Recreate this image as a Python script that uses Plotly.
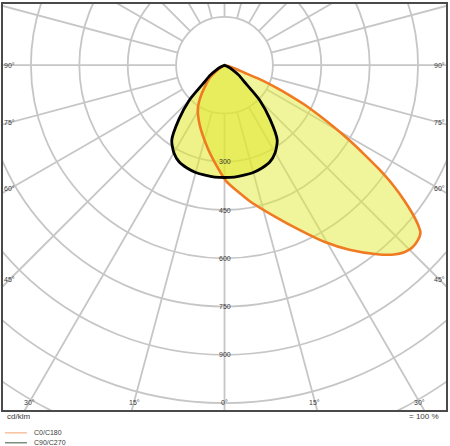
import numpy as np
import plotly.graph_objects as go

# ---- data (gamma angle from nadir in degrees, intensity in cd/klm) ----
# C0/C180 plane: negative gamma = C180 side, positive = C0 side
gamma_c0c180 = [-90, -62, -55, -48.7, -38.0, -31.7, -22.7, -11.4, -3.7, 0.8, 10.4, 18.5,
                24.4, 29.4, 34.0, 38.8, 41.8, 43.8, 45.7, 47.6, 49.4, 50.4, 51.7, 53.0,
                54.4, 56.0, 57.4, 58.9, 60.4, 62.0, 63.7, 65.2, 66.7, 68.2, 69.4, 74, 80, 90]
intensity_c0c180 = [0, 0, 25, 62, 117, 157, 200, 263, 320, 360, 429, 497,
                    562, 630, 692, 754, 789, 805, 812, 810, 800, 779, 741, 697,
                    646, 578, 514, 452, 391, 333, 276, 221, 168, 117, 66, 23, 5, 0]

# C90/C270 plane (symmetric)
gamma_c90c270 = [-90, -70, -65, -60, -55, -50, -47.5, -45, -40, -35, -30, -25, -20, -15, -10, -5, 0,
                 5, 10, 15, 20, 25, 30, 35, 40, 45, 47.5, 50, 55, 60, 65, 70, 90]
intensity_c90c270 = [0, 0, 12, 30, 55, 80, 110, 155, 220, 285, 314, 332, 340, 345, 347, 349, 349,
                     349, 347, 345, 340, 332, 314, 285, 220, 155, 110, 80, 55, 30, 12, 0, 0]

ring_values = [150, 300, 450, 600, 750, 900, 1050, 1200]
ring_label_values = [300, 450, 600, 750, 900]
spoke_angles = list(range(0, 360, 15))
angle_label_values = [0, 15, 30, 45, 60, 75, 90]
legend_names = ["C0/C180", "C90/C270"]

# ---- geometry helpers ----
X_RANGE = [-686.6, 686.6]
Y_RANGE = [-1071.5, 190.2]


def to_xy(gamma, inten):
    g = np.radians(np.asarray(gamma, dtype=float))
    r = np.asarray(inten, dtype=float)
    return r * np.sin(g), -r * np.cos(g)


GRID = "#c6c6c6"
fig = go.Figure()

shapes = []
for rv in ring_values:
    shapes.append(dict(type="circle", xref="x", yref="y", x0=-rv, y0=-rv, x1=rv, y1=rv,
                       line=dict(color=GRID, width=1.8), layer="below"))
for a in spoke_angles:
    x0, y0 = to_xy([a], [150])
    x1, y1 = to_xy([a], [2500])
    shapes.append(dict(type="line", xref="x", yref="y", x0=float(x0[0]), y0=float(y0[0]),
                       x1=float(x1[0]), y1=float(y1[0]),
                       line=dict(color=GRID, width=1.8), layer="below"))

FILL_C0 = "rgba(226,233,55,0.5)"
FILL_C90 = "rgba(224,232,40,0.55)"
x0c, y0c = to_xy(gamma_c0c180, intensity_c0c180)
x9c, y9c = to_xy(gamma_c90c270, intensity_c90c270)
SM = 0.6

fig.add_trace(go.Scatter(x=x0c, y=y0c, mode="lines", fill="toself", fillcolor=FILL_C0,
                         line=dict(width=0, shape="spline", smoothing=SM), hoverinfo="skip",
                         showlegend=False))
fig.add_trace(go.Scatter(x=x9c, y=y9c, mode="lines", fill="toself", fillcolor=FILL_C90,
                         line=dict(width=0, shape="spline", smoothing=SM), hoverinfo="skip",
                         showlegend=False))
fig.add_trace(go.Scatter(x=x0c, y=y0c, mode="lines",
                         line=dict(color="#f07a22", width=2.6, shape="spline", smoothing=SM),
                         hoverinfo="skip", showlegend=False))
fig.add_trace(go.Scatter(x=x9c, y=y9c, mode="lines",
                         line=dict(color="#000000", width=2.8, shape="spline", smoothing=SM),
                         hoverinfo="skip", showlegend=False))

FONT = "Liberation Sans, Arial, sans-serif"
TXT = "#3a3a3a"
annotations = []
for rv in ring_label_values:
    annotations.append(dict(x=0, y=-rv, xref="x", yref="y", text=str(rv), showarrow=False,
                            font=dict(family=FONT, size=7, color=TXT)))

X_LIM, Y_LIM = 665.0, -1046.7
for a in angle_label_values:
    for side in ([1, -1] if a != 0 else [1]):
        g = np.radians(a)
        s, c = np.sin(g), np.cos(g)
        t_side = X_LIM / s if s > 1e-9 else np.inf
        t_bot = -Y_LIM / c if c > 1e-9 else np.inf
        t = min(t_side, t_bot)
        annotations.append(dict(x=side * s * t, y=-c * t, xref="x", yref="y",
                                text=f"{a}°", showarrow=False,
                                font=dict(family=FONT, size=7, color=TXT)))


# outside texts (paper coords: plot area 444x408 px starting at x=3, y=2)
def px(xpix):
    return (xpix - 3) / 444.0


def py(ypix):
    return (410 - ypix) / 408.0


annotations.append(dict(x=px(5), y=py(417), xref="paper", yref="paper", text="cd/klm",
                        xanchor="left", yanchor="middle", showarrow=False,
                        font=dict(family=FONT, size=8, color=TXT)))
annotations.append(dict(x=px(442), y=py(417), xref="paper", yref="paper", text="= 100 %",
                        xanchor="right", yanchor="middle", showarrow=False,
                        font=dict(family=FONT, size=8, color=TXT)))
legend_colors = ["#f4a36e", "#3e5a3e"]
for k, (name, col) in enumerate(zip(legend_names, legend_colors)):
    yy = 433 + 10 * k
    shapes.append(dict(type="line", xref="paper", yref="paper", x0=px(5), x1=px(27),
                       y0=py(yy), y1=py(yy), line=dict(color=col, width=1)))
    annotations.append(dict(x=px(32), y=py(yy), xref="paper", yref="paper", text=name,
                            xanchor="left", yanchor="middle", showarrow=False,
                            font=dict(family=FONT, size=7, color=TXT)))

fig.update_layout(
    width=450, height=446,
    margin=dict(l=3, r=3, t=2, b=36),
    paper_bgcolor="white", plot_bgcolor="white",
    shapes=shapes, annotations=annotations,
    xaxis=dict(range=X_RANGE, showgrid=False, zeroline=False, showticklabels=False,
               ticks="", showline=True, mirror=True, linecolor="#4a4a4a", linewidth=2,
               fixedrange=True),
    yaxis=dict(range=Y_RANGE, showgrid=False, zeroline=False, showticklabels=False,
               ticks="", showline=True, mirror=True, linecolor="#4a4a4a", linewidth=2,
               fixedrange=True),
    showlegend=False,
)

fig.write_html("out.html",
               config={"displayModeBar": False, "staticPlot": True},
               post_script="document.body.style.margin='0';document.body.style.padding='0';"
                           "document.body.style.overflow='hidden';")
